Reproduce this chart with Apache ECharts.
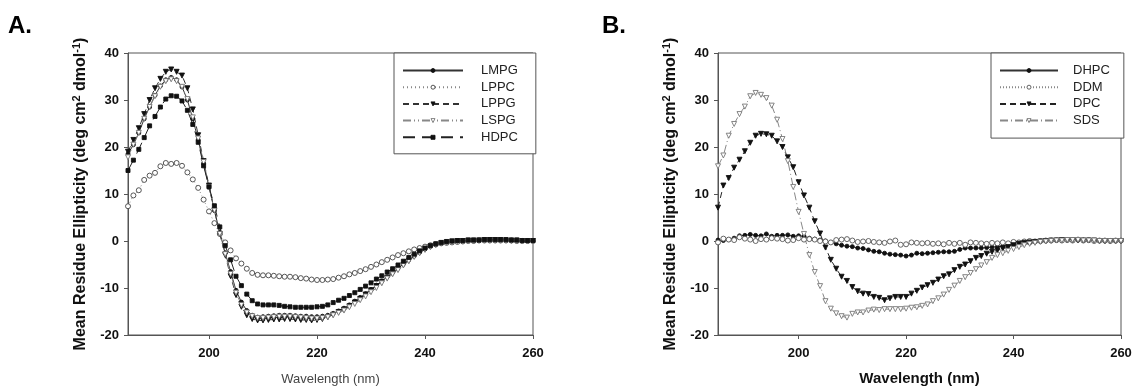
<!DOCTYPE html>
<html>
<head>
<meta charset="utf-8">
<script src="https://cdn.jsdelivr.net/npm/echarts@6/dist/echarts.min.js"></script>
<style>html,body{margin:0;padding:0;background:#fff}#c{width:1135px;height:388px}</style>
</head>
<body>
<div id="c"></div>
<script>
const wavelengths = [185,186,187,188,189,190,191,192,193,194,195,196,197,198,199,200,201,202,203,204,205,206,207,208,209,210,211,212,213,214,215,216,217,218,219,220,221,222,223,224,225,226,227,228,229,230,231,232,233,234,235,236,237,238,239,240,241,242,243,244,245,246,247,248,249,250,251,252,253,254,255,256,257,258,259,260];
const xTicks = [200, 220, 240, 260];

// Panel A
const LMPG = [18.5,20.5,23.0,26.0,28.5,31.0,33.0,34.3,34.8,34.3,
  32.8,30.0,26.0,21.5,16.5,11.5,6.5,1.8,-2.5,-6.5,
  -10.5,-13.0,-14.8,-15.8,-16.2,-16.1,-16.0,-15.9,-15.8,-15.8,
  -15.8,-15.9,-16.0,-16.0,-16.1,-16.1,-16.0,-15.8,-15.4,-14.9,
  -14.3,-13.6,-12.8,-12.0,-11.2,-10.3,-9.4,-8.5,-7.6,-6.7,
  -5.8,-4.9,-4.0,-3.2,-2.4,-1.7,-1.1,-0.7,-0.4,-0.2,
  -0.1,0.0,0.1,0.1,0.1,0.2,0.2,0.2,0.2,0.2,
  0.2,0.1,0.1,0.1,0.0,0.0];
const LPPC = [7.4,9.7,10.8,13.0,13.9,14.5,15.9,16.6,16.4,16.6,
  16.0,14.6,13.1,11.3,8.8,6.3,3.8,1.5,-0.3,-2.0,
  -3.7,-4.8,-5.9,-6.8,-7.2,-7.3,-7.3,-7.4,-7.5,-7.6,
  -7.6,-7.7,-7.9,-8.0,-8.2,-8.3,-8.3,-8.2,-8.1,-7.8,
  -7.5,-7.1,-6.8,-6.4,-6.0,-5.5,-5.0,-4.5,-4.0,-3.5,
  -3.0,-2.6,-2.2,-1.8,-1.5,-1.2,-0.9,-0.7,-0.5,-0.4,
  -0.3,-0.2,-0.1,0.0,0.0,0.1,0.1,0.1,0.1,0.1,
  0.1,0.1,0.0,0.0,0.0,0.0];
const LPPG = [19.0,21.5,24.0,27.0,30.0,32.5,34.5,36.0,36.5,36.0,
  35.2,32.5,28.0,22.5,17.0,11.8,6.5,1.5,-3.0,-7.5,
  -11.5,-14.0,-15.8,-16.6,-16.9,-16.9,-16.8,-16.7,-16.7,-16.6,
  -16.6,-16.7,-16.8,-16.8,-16.9,-16.8,-16.6,-16.2,-15.7,-15.1,
  -14.6,-13.9,-13.1,-12.3,-11.4,-10.5,-9.6,-8.7,-7.8,-6.9,
  -6.0,-5.1,-4.2,-3.3,-2.5,-1.8,-1.2,-0.8,-0.5,-0.3,
  -0.1,0.0,0.0,0.1,0.1,0.1,0.2,0.2,0.2,0.2,
  0.1,0.1,0.1,0.0,0.0,0.0];
const LSPG = [17.8,20.5,23.0,26.0,28.5,30.8,32.8,34.0,34.4,34.0,
  32.8,30.2,26.3,21.8,16.8,11.5,6.5,1.5,-2.8,-7.0,
  -11.0,-13.6,-15.2,-16.0,-16.4,-16.4,-16.3,-16.2,-16.1,-16.1,
  -16.1,-16.2,-16.3,-16.4,-16.5,-16.5,-16.4,-16.2,-15.8,-15.3,
  -14.8,-14.1,-13.4,-12.6,-11.8,-10.9,-10.0,-9.0,-8.0,-7.1,
  -6.2,-5.2,-4.3,-3.4,-2.6,-1.9,-1.3,-0.8,-0.5,-0.3,
  -0.2,-0.1,-0.1,0.0,0.0,0.1,0.1,0.1,0.1,0.1,
  0.1,0.0,0.0,-0.1,-0.1,-0.1];
const HDPC = [15.0,17.2,19.5,22.0,24.5,26.5,28.5,30.2,30.9,30.8,
  29.8,27.8,24.8,21.0,16.0,11.5,7.5,3.0,-1.0,-4.0,
  -7.5,-9.5,-11.3,-12.7,-13.4,-13.6,-13.6,-13.6,-13.7,-13.9,
  -14.0,-14.1,-14.1,-14.1,-14.1,-14.0,-13.9,-13.6,-13.1,-12.6,
  -12.2,-11.6,-11.0,-10.3,-9.6,-8.9,-8.1,-7.4,-6.6,-5.9,
  -5.1,-4.3,-3.5,-2.8,-2.1,-1.5,-1.0,-0.6,-0.3,-0.1,
  0.0,0.1,0.1,0.2,0.2,0.2,0.3,0.3,0.3,0.3,
  0.3,0.2,0.2,0.1,0.1,0.1];

// Panel B
const DHPC = [0.2,0.1,0.3,0.6,1.1,1.2,1.4,1.2,1.1,1.5,
  1.0,1.2,1.2,1.3,1.0,1.1,1.0,0.6,0.4,0.2,
  0.0,-0.3,-0.6,-0.9,-1.1,-1.2,-1.5,-1.6,-1.9,-2.2,
  -2.3,-2.6,-2.8,-2.9,-3.0,-3.2,-3.0,-2.6,-2.7,-2.6,
  -2.5,-2.4,-2.3,-2.3,-2.2,-1.8,-1.5,-1.5,-1.5,-1.5,
  -1.4,-1.3,-1.2,-1.1,-0.9,-0.8,-0.7,-0.5,-0.4,-0.2,
  -0.1,0.0,0.1,0.2,0.2,0.3,0.3,0.2,0.2,0.1,
  0.1,0.0,0.0,0.1,0.0,0.0];
const DDM = [-0.3,0.5,0.3,0.2,0.8,0.5,0.3,0.0,0.4,0.3,
  0.6,0.5,0.4,0.1,0.2,0.6,0.3,0.4,0.3,0.0,
  -0.1,-0.3,0.2,0.3,0.4,0.1,-0.2,-0.1,0.0,-0.2,
  -0.3,-0.4,-0.1,0.1,-0.8,-0.7,-0.3,-0.4,-0.5,-0.4,
  -0.6,-0.5,-0.7,-0.4,-0.6,-0.4,-0.8,-0.3,-0.4,-0.5,
  -0.6,-0.4,-0.5,-0.3,-0.5,-0.2,-0.3,-0.1,0.0,-0.1,
  0.0,0.1,0.1,0.2,0.1,0.2,0.1,0.3,0.1,0.2,
  0.0,0.1,0.1,0.0,0.1,0.1];
const DPC = [7.1,11.8,13.4,15.6,17.3,19.1,20.9,22.4,22.8,22.7,
  22.4,21.2,20.0,17.8,15.7,12.5,9.7,7.1,4.2,1.6,
  -1.4,-4.0,-5.9,-7.6,-8.5,-9.8,-10.7,-11.2,-11.3,-11.9,
  -12.1,-12.6,-12.2,-11.9,-11.9,-11.9,-11.2,-10.6,-9.9,-9.4,
  -8.9,-8.2,-7.5,-7.1,-6.2,-5.5,-5.0,-4.3,-3.6,-3.2,
  -2.7,-2.3,-2.0,-1.6,-1.3,-0.9,-0.6,-0.4,-0.3,-0.2,
  -0.1,0.0,0.1,0.1,0.2,0.2,0.2,0.1,0.1,0.1,
  0.1,0.0,0.0,0.0,0.0,0.0];
const SDS = [15.9,18.2,22.4,24.9,27.0,28.6,30.8,31.5,31.1,30.4,
  28.8,25.8,21.7,17.0,11.5,6.2,1.5,-3.0,-6.6,-9.6,
  -12.8,-14.4,-15.4,-16.0,-16.3,-15.5,-15.2,-15.2,-14.8,-14.6,
  -14.7,-14.5,-14.5,-14.5,-14.5,-14.4,-14.2,-14.1,-13.8,-13.5,
  -12.8,-12.2,-11.4,-10.4,-9.5,-8.5,-7.7,-6.8,-6.0,-5.2,
  -4.5,-3.6,-3.0,-2.6,-2.1,-1.7,-1.3,-0.9,-0.6,-0.4,
  -0.2,-0.1,0.0,0.1,0.1,0.2,0.2,0.2,0.1,0.1,
  0.1,0.0,0.0,0.0,0.0,0.0];

const FONT = 'Liberation Sans, Arial, sans-serif';
const pair = arr => wavelengths.map((w, i) => [w, arr[i]]);

function mk(name, arr, idx, sym, size, fill, border, lineColor, dash, rotate) {
  return {
    name, type: 'line', xAxisIndex: idx, yAxisIndex: idx,
    data: pair(arr), symbol: sym, symbolSize: size, symbolRotate: rotate || 0,
    showAllSymbol: true, animation: false,
    itemStyle: { color: fill, borderColor: border, borderWidth: 0.9 },
    lineStyle: { color: lineColor, width: 1, type: dash }
  };
}

const yName = 'Mean Residue Ellipticity (deg cm{sup|2} dmol{sup|-1})';
function xAxis(idx, nameStyle) {
  return {
    type: 'value', gridIndex: idx, min: 185, max: 260,
    name: 'Wavelength (nm)', nameLocation: 'middle', nameGap: nameStyle.gap,
    nameTextStyle: { fontFamily: FONT, fontSize: nameStyle.size, fontWeight: nameStyle.weight, color: nameStyle.color },
    axisLine: { show: true, onZero: false, lineStyle: { color: '#555', width: 1 } },
    axisTick: { show: true, inside: false, length: 4, customValues: xTicks, lineStyle: { color: '#555' } },
    axisLabel: { customValues: xTicks, margin: 12, fontFamily: FONT, fontSize: 13, fontWeight: 'bold', color: '#111' },
    splitLine: { show: false }
  };
}
function yAxis(idx) {
  return {
    type: 'value', gridIndex: idx, min: -20, max: 40, interval: 10,
    name: yName, nameLocation: 'middle', nameGap: 37, nameRotate: 90,
    nameTextStyle: { fontFamily: FONT, fontSize: 16, fontWeight: 'bold', color: '#111', lineHeight: 20,
      rich: { sup: { fontFamily: FONT, fontSize: 11, fontWeight: 'bold', color: '#111', lineHeight: 11, verticalAlign: 'top' } } },
    axisLine: { show: true, onZero: false, lineStyle: { color: '#555', width: 1 } },
    axisTick: { show: true, inside: false, length: 4, lineStyle: { color: '#555' } },
    axisLabel: { margin: 9, fontFamily: FONT, fontSize: 13, fontWeight: 'bold', color: '#111' },
    splitLine: { show: false }
  };
}
function legend(idx, names, left, itemWidth, textPad, padding, itemGap) {
  return {
    data: names, orient: 'vertical', left: left, top: 53,
    itemWidth: itemWidth, itemHeight: 5, itemGap: itemGap,
    padding: padding, borderColor: '#555', borderWidth: 1, backgroundColor: '#fff',
    selectedMode: false,
    itemStyle: { borderWidth: 0.9 },
    textStyle: { fontFamily: FONT, fontSize: 13, color: '#222', padding: [0, 0, 0, textPad] }
  };
}

const chart = echarts.init(document.getElementById('c'), null, { renderer: 'canvas' });
chart.setOption({
  backgroundColor: '#fff',
  animation: false,
  grid: [
    { left: 128, top: 53, width: 405, height: 282, show: true, borderColor: '#555', borderWidth: 1, backgroundColor: 'transparent', outerBoundsMode: 'none' },
    { left: 718, top: 53, width: 403, height: 282, show: true, borderColor: '#555', borderWidth: 1, backgroundColor: 'transparent', outerBoundsMode: 'none' }
  ],
  graphic: [
    { type: 'text', left: 8, top: 14, style: { text: 'A.', fontFamily: FONT, fontSize: 24, fontWeight: 'bold', fill: '#000' } },
    { type: 'text', left: 602, top: 14, style: { text: 'B.', fontFamily: FONT, fontSize: 24, fontWeight: 'bold', fill: '#000' } }
  ],
  xAxis: [
    xAxis(0, { gap: 38, size: 13, weight: 'normal', color: '#444' }),
    xAxis(1, { gap: 36, size: 15, weight: 'bold', color: '#111' })
  ],
  yAxis: [yAxis(0), yAxis(1)],
  legend: [
    legend(0, ['LMPG', 'LPPC', 'LPPG', 'LSPG', 'HDPC'], 394, 60, 13, [11, 18, 10, 8], 3.7),
    legend(1, ['DHPC', 'DDM', 'DPC', 'SDS'], 991, 58, 10, [11, 14, 11, 8], 3.7)
  ],
  series: [
    mk('LMPG', LMPG, 0, 'circle', 4, '#111', '#111', '#333', 'solid'),
    mk('LPPC', LPPC, 0, 'circle', 5, '#fff', '#444', '#888', [1, 3]),
    mk('LPPG', LPPG, 0, 'triangle', 5, '#111', '#111', '#333', [6, 4], 180),
    mk('LSPG', LSPG, 0, 'triangle', 5, '#fff', '#777', '#888', [8, 3, 1, 3, 1, 3], 180),
    mk('HDPC', HDPC, 0, 'rect', 4, '#111', '#111', '#222', [12, 7]),
    mk('DHPC', DHPC, 1, 'circle', 4, '#111', '#111', '#333', 'solid'),
    mk('DDM', DDM, 1, 'circle', 5, '#fff', '#555', '#888', [1, 2]),
    mk('DPC', DPC, 1, 'triangle', 5, '#111', '#111', '#222', [6, 4], 180),
    mk('SDS', SDS, 1, 'triangle', 5, '#fff', '#777', '#888', [8, 3, 1, 3], 180)
  ]
});
</script>
</body>
</html>
